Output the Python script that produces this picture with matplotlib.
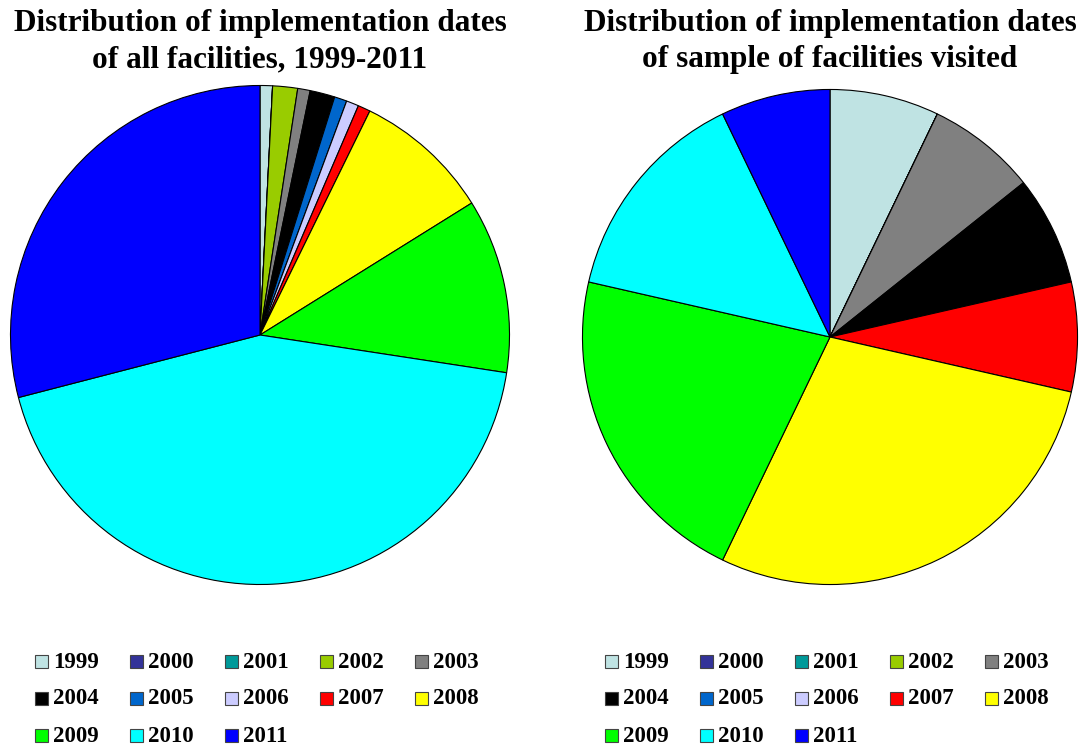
import matplotlib.pyplot as plt
from matplotlib.patches import Rectangle

# Data (counts of facilities per implementation year)
years = ['1999', '2000', '2001', '2002', '2003', '2004', '2005',
         '2006', '2007', '2008', '2009', '2010', '2011']
colors = ['#BFE3E3', '#333399', '#009999', '#99CC00', '#808080', '#000000',
          '#0066CC', '#CCCCFF', '#FF0000', '#FFFF00', '#00FF00', '#00FFFF',
          '#0000FF']
all_counts = [1, 0, 0, 2, 1, 2, 1, 1, 1, 11, 14, 54, 36]
visited_counts = [1, 0, 0, 0, 1, 1, 0, 0, 1, 4, 3, 2, 1]

titles = ['Distribution of implementation dates\nof all facilities, 1999-2011',
          'Distribution of implementation dates\nof sample of facilities visited']

plt.rcParams['font.family'] = ['Liberation Serif', 'DejaVu Serif']

fig = plt.figure(figsize=(10.83, 7.47), dpi=100)
W, H = 1083, 747

# pie axes placed in pixel coords: (cx, cy, r)
geo = [(260, 335, 252), (830, 337, 250)]
series = [all_counts, visited_counts]
legend_x = [35, 605]

for k in range(2):
    cx, cy, r = geo[k]
    ax = fig.add_axes([(cx - r) / W, (H - cy - r) / H, 2 * r / W, 2 * r / H])
    ax.pie(series[k], colors=colors, startangle=90, counterclock=False,
           wedgeprops=dict(edgecolor='black', linewidth=0.8))
    ax.set_xlim(-1.01, 1.01)
    ax.set_ylim(-1.01, 1.01)
    ax.set_aspect('equal')
    ax.axis('off')

    fig.text(cx / W, 1 - 9 / H, titles[k], ha='center', va='top',
             fontsize=22.5, fontweight='bold', linespacing=1.32)

    # legend, 5 per row, filled row by row
    for i, (yr, c) in enumerate(zip(years, colors)):
        row, col = i // 5, i % 5
        x = legend_x[k] + col * 95
        y = 661 + row * 37
        fig.patches.append(Rectangle((x / W, 1 - (y + 6.5) / H), 13 / W, 13 / H,
                                     transform=fig.transFigure, facecolor=c,
                                     edgecolor='#444444', linewidth=0.8))
        fig.text((x + 18) / W, 1 - (y + 1) / H, yr, ha='left', va='center',
                 fontsize=16.5, fontweight='bold')

fig.savefig('out.png', dpi=100)
